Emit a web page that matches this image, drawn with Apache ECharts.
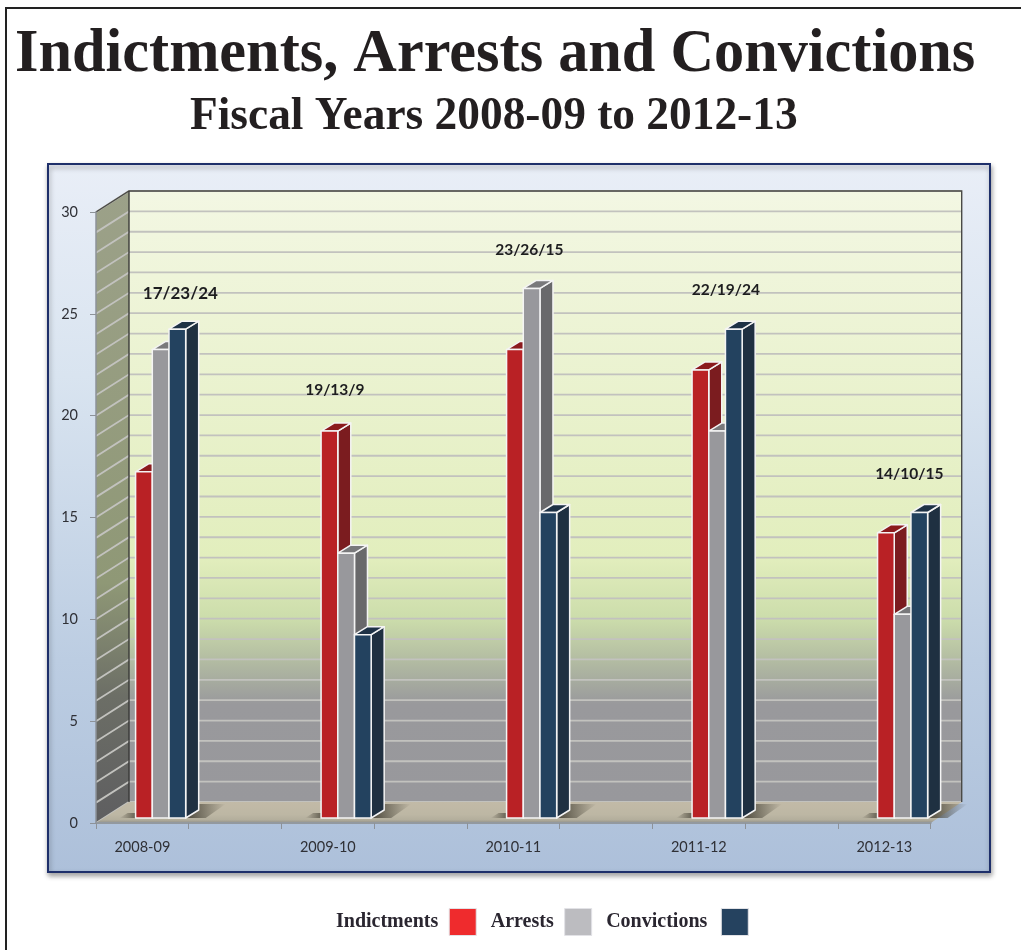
<!DOCTYPE html>
<html>
<head>
<meta charset="utf-8">
<style>html,body{margin:0;padding:0;background:#fff}#chart{width:1021px;height:950px}</style>
<script src="https://cdn.jsdelivr.net/npm/echarts@6/dist/echarts.min.js"></script>
</head>
<body>
<div id="chart"></div>
<script>
// Fiscal years alternate with empty slots so each group has a gap after it.
const categories = ['2008-09', '', '2009-10', '', '2010-11', '', '2011-12', '', '2012-13'];
const indictments = [17, null, 19, null, 23, null, 22, null, 14];
const arrests = [23, null, 13, null, 26, null, 19, null, 10];
const convictions = [24, null, 9, null, 15, null, 24, null, 15];

// Hand placement of each "a/b/c" caption relative to its slot centre and tallest bar.
const captionShiftX = [38, null, 7, null, 16, null, 27, null, 25];
const captionLift = [41, null, 46, null, 43, null, 44, null, 44];
const captionSize = [17, null, 15.5, null, 15.5, null, 15.5, null, 15.5];

const SERIF = '"Liberation Serif", "Times New Roman", serif';
const SANS = 'Lato, "Noto Sans", sans-serif';

// Oblique depth of the plot box and of a single bar.
const BOX_DX = 33, BOX_DY = -21, BOX_RIGHT_DX = 31;
const BAR_DX = 13, BAR_DY = -8;
const BAR_LIFT = 5;
const BAR_INSET = 0.073, BAR_WIDTH = 0.18;

const palette = [
  { name: 'Indictments', values: indictments, front: '#b92125', side: '#7b1c1f', top: '#8b1a1d', key: '#ef2b2d', keyGap: 6 },
  { name: 'Arrests', values: arrests, front: '#98989c', side: '#69696b', top: '#79797b', key: '#bcbcc0', keyGap: 6 },
  { name: 'Convictions', values: convictions, front: '#23425f', side: '#1f3041', top: '#1e3246', key: '#25425f', keyGap: 9 }
];

function vGrad(stops) {
  return { type: 'linear', x: 0, y: 0, x2: 0, y2: 1, colorStops: stops.map(s => ({ offset: s[0], color: s[1] })) };
}
function hGrad(from, to) {
  return { type: 'linear', x: 0, y: 0, x2: 1, y2: 0, colorStops: [{ offset: 0, color: from }, { offset: 1, color: to }] };
}

function renderWalls(params, api) {
  const r = params.coordSys;
  const L = r.x, R = r.x + r.width, T = r.y, B = r.y + r.height;
  const backL = L + BOX_DX, backR = R + BOX_RIGHT_DX;
  const kids = [];
  // back wall
  kids.push({ type: 'rect', shape: { x: backL, y: T + BOX_DY, width: backR - backL, height: r.height },
    style: { fill: vGrad([[0, '#f3f7e3'], [0.6, '#e2eebd'], [0.7, '#ccddab'], [0.77, '#b2bba2'], [0.84, '#99999c'], [1, '#98989c']]) } });
  // left wall
  kids.push({ type: 'polygon', shape: { points: [[L, T], [backL, T + BOX_DY], [backL, B + BOX_DY], [L, B]] },
    style: { fill: vGrad([[0, '#9ca189'], [0.62, '#8f9876'], [0.8, '#6c6e66'], [1, '#5e5e60']]) } });
  // unit gridlines running along both walls
  for (let v = 0; v <= 30; v++) {
    const y = api.coord([0, v])[1];
    kids.push({ type: 'polyline', shape: { points: [[L, y], [backL, y + BOX_DY], [backR, y + BOX_DY]] },
      style: { stroke: '#c2c2be', lineWidth: 1.8, fill: null } });
  }
  // floor
  kids.push({ type: 'polygon', shape: { points: [[L, B], [backL, B + BOX_DY], [backR, B + BOX_DY], [R, B]] },
    style: { fill: vGrad([[0, '#c2baa7'], [0.6, '#bdb7a4'], [0.85, '#b3ae9c'], [1, '#8f8f8a']]) } });
  // dark edges of the box
  kids.push({ type: 'polyline', shape: { points: [[L, T], [backL, T + BOX_DY], [backR, T + BOX_DY], [backR, B + BOX_DY]] },
    style: { stroke: '#4a4a46', lineWidth: 1.4, fill: null } });
  kids.push({ type: 'polyline', shape: { points: [[backL, T + BOX_DY], [backL, B + BOX_DY]] },
    style: { stroke: '#3a3a38', lineWidth: 1.4, fill: null } });
  return { type: 'group', children: kids };
}

function renderShadow(params, api) {
  const band = api.size([1, 0])[0];
  const cx = api.coord([api.value(0), 0])[0];
  const base = api.coord([0, 0])[1] - BAR_LIFT;
  const left = cx - band * BAR_INSET;
  const x0 = left + band * BAR_WIDTH * 3;
  return {
    type: 'group',
    children: [
      { type: 'polygon', shape: { points: [[x0, base], [x0 + 12, base - 14], [x0 + 40, base - 14], [x0 + 20, base]] },
        style: { fill: hGrad('rgba(66,62,50,0.9)', 'rgba(66,62,50,0)') } },
      { type: 'polygon', shape: { points: [[left - 16, base], [left - 8, base - 5], [left, base - 5], [left, base]] },
        style: { fill: hGrad('rgba(66,62,50,0)', 'rgba(66,62,50,0.7)') } }
    ]
  };
}

function barRenderer(slot, spec) {
  return function (params, api) {
    const i = api.value(0), v = api.value(1);
    const band = api.size([1, 0])[0];
    const w = band * BAR_WIDTH;
    const x = api.coord([i, 0])[0] - band * BAR_INSET + slot * w;
    const yBase = api.coord([i, 0])[1] - BAR_LIFT;
    const yTop = api.coord([i, v])[1] - BAR_LIFT;
    const edge = { stroke: '#f4f4f4', lineWidth: 1.5, lineJoin: 'round' };
    return {
      type: 'group',
      children: [
        { type: 'polygon', shape: { points: [[x + w, yTop], [x + w + BAR_DX, yTop + BAR_DY], [x + w + BAR_DX, yBase + BAR_DY], [x + w, yBase]] },
          style: Object.assign({ fill: spec.side }, edge) },
        { type: 'polygon', shape: { points: [[x, yTop], [x + BAR_DX, yTop + BAR_DY], [x + w + BAR_DX, yTop + BAR_DY], [x + w, yTop]] },
          style: Object.assign({ fill: spec.top }, edge) },
        { type: 'rect', shape: { x: x, y: yTop, width: w, height: yBase - yTop },
          style: Object.assign({ fill: spec.front }, edge) }
      ]
    };
  };
}

function renderCaption(params, api) {
  const i = api.value(0);
  const top = Math.max(indictments[i], arrests[i], convictions[i]);
  const p = api.coord([i, top]);
  return {
    type: 'text',
    x: p[0] + captionShiftX[i],
    y: p[1] - captionLift[i],
    style: {
      text: indictments[i] + '/' + arrests[i] + '/' + convictions[i],
      font: 'bold ' + captionSize[i] + 'px ' + SANS, fill: '#1d1d1f', align: 'center', verticalAlign: 'middle'
    }
  };
}

const slots = categories.map((c, i) => i).filter(i => categories[i] !== '');

const series = [
  { name: 'walls', type: 'custom', z: 1, silent: true, renderItem: renderWalls, data: [[0, 0]] },
  { name: 'floorShadow', type: 'custom', z: 1.5, silent: true, renderItem: renderShadow, data: slots.map(i => [i, 0]) }
];
palette.forEach((spec, slot) => {
  series.push({
    name: spec.name, type: 'custom', z: 2 + slot * 0.1, silent: true,
    renderItem: barRenderer(slot, spec),
    itemStyle: { color: spec.key },
    data: spec.values.map((v, i) => [i, v]).filter(d => d[1] !== null)
  });
});
series.push({ name: 'captions', type: 'custom', z: 3, silent: true, renderItem: renderCaption, data: slots.map(i => [i, 0]) });

const chart = echarts.init(document.getElementById('chart'), null, { renderer: 'canvas' });
chart.setOption({
  animation: false,
  backgroundColor: '#ffffff',
  title: [
    { text: 'Indictments, Arrests and Convictions', left: 15, top: 25,
      textStyle: { fontFamily: SERIF, fontWeight: 'bold', fontSize: 60.3, color: '#231f20' }, padding: 0 },
    { text: 'Fiscal Years 2008-09 to 2012-13', left: 190, top: 95,
      textStyle: { fontFamily: SERIF, fontWeight: 'bold', fontSize: 45.4, color: '#231f20' }, padding: 0 }
  ],
  graphic: [
    { type: 'polyline', z: -20, shape: { points: [[6, 950], [6, 8], [1021, 8]] }, style: { stroke: '#222222', lineWidth: 2, fill: null } },
    { type: 'rect', z: -10, shape: { x: 48, y: 164, width: 942, height: 708 },
      style: { stroke: '#1e2f6a', lineWidth: 2,
        fill: vGrad([[0, '#e9eef7'], [0.3, '#d9e4f0'], [0.7, '#bccde2'], [1, '#adc0da']]),
        shadowBlur: 5, shadowOffsetX: 1, shadowOffsetY: 3, shadowColor: 'rgba(0,0,0,0.35)' } }
  ],
  legend: {
    left: 336, top: 908, align: 'right', icon: 'rect', selectedMode: false,
    itemWidth: 27, itemHeight: 27, itemGap: 14, padding: 0,
    textStyle: { fontFamily: SERIF, fontWeight: 'bold', fontSize: 20, color: '#2a2630' },
    data: palette.map(s => ({
      name: s.name,
      itemStyle: { color: s.key, borderColor: '#e2e2e6', borderWidth: 1 },
      textStyle: { padding: [3, s.keyGap, 0, 0] }
    }))
  },
  grid: { left: 96, right: 90.3, top: 212, bottom: 127, containLabel: false },
  xAxis: {
    type: 'category', data: categories, z: 4,
    axisLine: { lineStyle: { color: '#93999f', width: 2 } },
    axisTick: { show: true, length: 6, lineStyle: { color: '#8d9298', width: 1 } },
    axisLabel: { interval: 0, margin: 17, fontFamily: SANS, fontSize: 14.5, color: '#2f3036' },
    splitLine: { show: false }
  },
  yAxis: {
    type: 'value', min: 0, max: 30, interval: 5, z: 4,
    axisLine: { show: true, lineStyle: { color: '#8d9298', width: 1.5 } },
    axisTick: { show: true, length: 6, lineStyle: { color: '#8d9298', width: 1 } },
    axisLabel: { margin: 18, fontFamily: SANS, fontSize: 14.5, color: '#2f3036' },
    splitLine: { show: false }
  },
  series: series
});
</script>
</body>
</html>
